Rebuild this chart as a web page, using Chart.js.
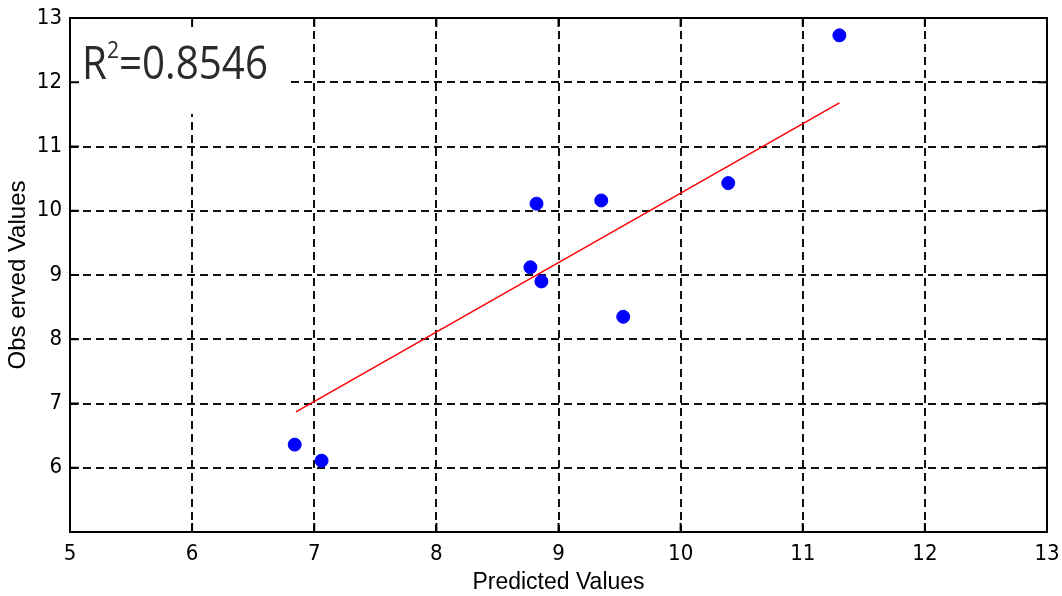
<!DOCTYPE html>
<html>
<head>
<meta charset="utf-8">
<script src="https://cdn.jsdelivr.net/npm/chart.js@4.4.0/dist/chart.umd.min.js"></script>
<style>
  html, body { margin: 0; padding: 0; background: #fff; }
  #wrap { width: 1062px; height: 596px; }
</style>
</head>
<body>
<div id="wrap"><canvas id="myChart"></canvas></div>
<script>
// observed vs predicted points
const predicted = [6.84, 7.06, 8.77, 8.86, 8.82, 9.35, 9.53, 10.39, 11.30];
const observed  = [6.36, 6.11, 9.12, 8.90, 10.11, 10.16, 8.35, 10.43, 12.73];

// fitted line end points
const fitX = [6.85, 11.30];
const fitY = [6.87, 11.68];

const axisMin = 5;
const axisMax = 13;
const tickValues = [5, 6, 7, 8, 9, 10, 11, 12, 13];
const hiddenYTicks = [5];
const r2Text = '0.8546';

const tickFont = { family: "'Liberation Sans Narrow', 'DejaVu Sans Condensed', sans-serif", size: 22 };
const titleFont = { family: "'Liberation Sans', Arial, sans-serif", size: 23 };

// frame, inward ticks, R2 label box
const matlabPlugin = {
    id: 'matlabFrame',
    beforeDatasetsDraw(chart) {
        const { ctx, chartArea: a } = chart;
        ctx.save();
        // white box behind the R2 label
        ctx.fillStyle = '#fff';
        ctx.fillRect(a.left + 1, a.top + 1, 216, 95);
        ctx.restore();
    },
    afterDatasetsDraw(chart) {
        const { ctx, chartArea: a, scales } = chart;
        ctx.save();
        ctx.strokeStyle = '#000';
        ctx.lineWidth = 2;
        ctx.strokeRect(a.left, a.top, a.right - a.left, a.bottom - a.top);

        // inward tick marks
        ctx.beginPath();
        tickValues.forEach(v => {
            let x = scales.x.getPixelForValue(v);
            ctx.moveTo(x, a.bottom); ctx.lineTo(x, a.bottom - 9);
            ctx.moveTo(x, a.top); ctx.lineTo(x, a.top + 9);
            let y = scales.y.getPixelForValue(v);
            ctx.moveTo(a.left, y); ctx.lineTo(a.left + 9, y);
            ctx.moveTo(a.right, y); ctx.lineTo(a.right - 9, y);
        });
        ctx.stroke();

        // R^2 label
        ctx.fillStyle = '#2b2b2b';
        ctx.textBaseline = 'alphabetic';
        let x0 = a.left + 12;
        let base = a.top + 61;
        const big = "46px 'Open Sans', 'Noto Sans', sans-serif";
        const small = "24px 'Open Sans', 'Noto Sans', sans-serif";
        ctx.font = big;
        let wR = ctx.measureText('R').width;
        let wRest = ctx.measureText('=' + r2Text).width;
        ctx.font = small;
        let w2 = ctx.measureText('2').width;
        let sx = 186 / (wR + w2 + wRest);
        ctx.translate(x0, base);
        ctx.scale(sx, 1);
        ctx.font = big;
        ctx.fillText('R', 0, 0);
        ctx.font = small;
        ctx.fillText('2', wR, -21);
        ctx.font = big;
        ctx.fillText('=' + r2Text, wR + w2, 0);
        ctx.restore();
    }
};

let ctx = document.getElementById('myChart').getContext('2d');
new Chart(ctx, {
    type: 'scatter',
    data: {
        datasets: [
            {
                label: 'Observed',
                data: predicted.map((p, i) => ({ x: p, y: observed[i] })),
                pointStyle: 'circle',
                pointRadius: 6.5,
                pointHoverRadius: 6.5,
                backgroundColor: '#0000ff',
                borderColor: '#0000ff',
                borderWidth: 1,
                order: 1
            },
            {
                type: 'line',
                label: 'Fit',
                data: fitX.map((x, i) => ({ x: x, y: fitY[i] })),
                borderColor: '#ff0000',
                borderWidth: 1.5,
                pointRadius: 0,
                fill: false,
                order: 2
            }
        ]
    },
    options: {
        responsive: true,
        maintainAspectRatio: false,
        animation: false,
        layout: { padding: { top: 18, right: 15, left: 0, bottom: 0 } },
        plugins: {
            legend: { display: false },
            tooltip: { enabled: false }
        },
        scales: {
            x: {
                type: 'linear',
                min: axisMin,
                max: axisMax,
                afterFit: s => { s.height = 64; s.paddingLeft = 0; s.paddingRight = 0; },
                afterBuildTicks: s => { s.ticks = tickValues.map(v => ({ value: v })); },
                ticks: { color: '#000', font: tickFont, padding: 9, maxRotation: 0 },
                grid: { color: '#111', lineWidth: 2, drawTicks: false },
                border: { display: false, dash: [8, 5] },
                title: { display: true, text: 'Predicted Values', color: '#000', font: titleFont, padding: 0 }
            },
            y: {
                type: 'linear',
                min: axisMin,
                max: axisMax,
                afterFit: s => { s.width = 70; s.paddingTop = 0; s.paddingBottom = 0; },
                afterBuildTicks: s => { s.ticks = tickValues.map(v => ({ value: v })); },
                ticks: {
                    color: '#000', font: tickFont, padding: 8,
                    callback: v => hiddenYTicks.includes(v) ? '' : v
                },
                grid: { color: '#111', lineWidth: 2, drawTicks: false },
                border: { display: false, dash: [8, 5] },
                title: { display: true, text: 'Obs erved Values', color: '#000', font: { family: titleFont.family, size: 24 }, padding: { top: 4, bottom: 0 } }
            }
        }
    },
    plugins: [matlabPlugin]
});
</script>
</body>
</html>
